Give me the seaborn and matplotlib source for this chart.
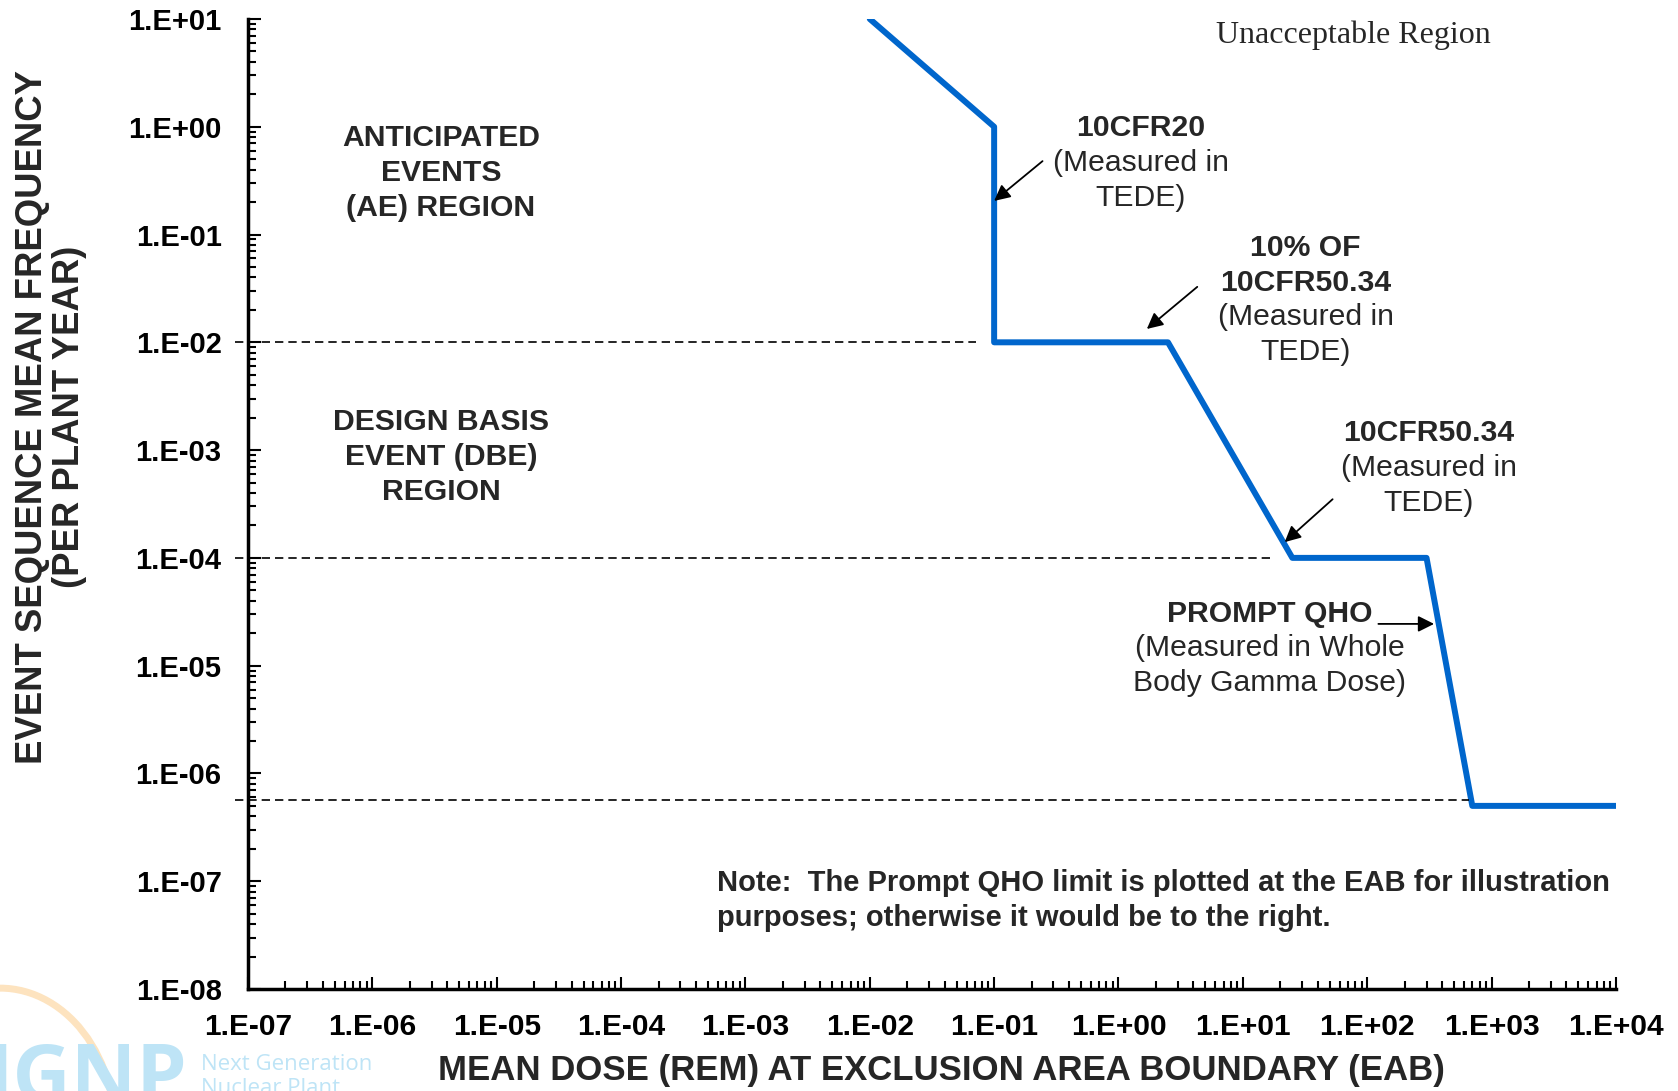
import numpy as np
import matplotlib
matplotlib.use("Agg")
import matplotlib.pyplot as plt
import seaborn as sns
from matplotlib.ticker import LogLocator, NullFormatter
from matplotlib.patches import Arc
from matplotlib import font_manager

# Limit curve: mean dose at EAB (rem) vs. event sequence frequency (per plant year)
dose = [1e-2, 0.1, 0.1, 2.5, 25, 300, 700, 1e4]
freq = [10, 1, 1e-2, 1e-2, 1e-4, 1e-4, 5e-7, 5e-7]

# Dashed region boundaries (frequency level, dose where the dashes stop)
bound_freq = [1e-2, 1e-4, 5.7e-7]
bound_end = [0.072, 17, 660]

x_ticks = [1e-7, 1e-6, 1e-5, 1e-4, 1e-3, 1e-2, 1e-1, 1e0, 1e1, 1e2, 1e3, 1e4]
x_tick_labels = ["1.E-07", "1.E-06", "1.E-05", "1.E-04", "1.E-03", "1.E-02",
                 "1.E-01", "1.E+00", "1.E+01", "1.E+02", "1.E+03", "1.E+04"]
y_ticks = [1e-8, 1e-7, 1e-6, 1e-5, 1e-4, 1e-3, 1e-2, 1e-1, 1e0, 1e1]
y_tick_labels = ["1.E-08", "1.E-07", "1.E-06", "1.E-05", "1.E-04", "1.E-03",
                 "1.E-02", "1.E-01", "1.E+00", "1.E+01"]

sns.set_theme(style="ticks")
plt.rcParams['font.family'] = ['Liberation Sans', 'DejaVu Sans']
installed = {f.name for f in font_manager.fontManager.ttflist}
narrow = 'Liberation Sans Narrow' if 'Liberation Sans Narrow' in installed else 'Liberation Sans'

fig = plt.figure(figsize=(16.78, 10.91), dpi=100)
ax = fig.add_axes([0.1478, 0.0935, 0.8152, 0.8891])
ax.set_xscale("log")
ax.set_yscale("log")

sns.lineplot(x=dose, y=freq, ax=ax, estimator=None, sort=False,
             color="#0066CC", linewidth=4.3)

for level, end in zip(bound_freq, bound_end):
    ax.plot([7.9e-8, end], [level, level], color="black", linewidth=1.2,
            linestyle=(0, (5, 3)), clip_on=False)

ax.set_xlim(1e-7, 1e4)
ax.set_ylim(1e-8, 1e1)

ax.set_xticks(x_ticks, x_tick_labels)
ax.set_yticks(y_ticks, y_tick_labels)
ax.xaxis.set_minor_locator(LogLocator(base=10, subs=np.arange(2, 10), numticks=100))
ax.yaxis.set_minor_locator(LogLocator(base=10, subs=np.arange(2, 10), numticks=100))
ax.xaxis.set_minor_formatter(NullFormatter())
ax.yaxis.set_minor_formatter(NullFormatter())

ax.tick_params(which="both", direction="in", width=1.5, top=False, right=False, colors="black")
ax.tick_params(which="major", length=9)
ax.tick_params(which="minor", length=6)
ax.tick_params(axis="y", which="major", pad=19)
ax.tick_params(axis="x", which="major", pad=17)
for lab in ax.get_yticklabels():
    lab.set_fontsize(21)
    lab.set_fontweight("bold")
for lab in ax.get_xticklabels():
    lab.set_fontsize(21.5 if narrow == 'Liberation Sans' else 26)
    lab.set_fontweight("bold")
    lab.set_family(narrow)

for side in ["top", "right"]:
    ax.spines[side].set_visible(False)
for side in ["left", "bottom"]:
    ax.spines[side].set_linewidth(2.5)
    ax.spines[side].set_color("black")

title_size = 25 if narrow == 'Liberation Sans' else 29
ax.set_xlabel("MEAN DOSE (REM) AT EXCLUSION AREA BOUNDARY (EAB)",
              fontsize=title_size, fontweight="bold", family=narrow)
ax.xaxis.set_label_coords(0.507, -0.0845)
ax.xaxis.label.set_verticalalignment("center")
ax.set_ylabel("EVENT SEQUENCE MEAN FREQUENCY\n(PER PLANT YEAR)",
              fontsize=title_size + 1.3, fontweight="bold", family=narrow, linespacing=1.1)
ax.yaxis.set_label_coords(-0.144, 0.59)
ax.yaxis.label.set_verticalalignment("center")


def block(x, y, lines, weights, size=21.7, spacing=25.2, ha="center", family=None):
    for i, (s, w) in enumerate(zip(lines, weights)):
        ax.annotate(s, xy=(x, y), xytext=(0, -i * spacing), textcoords="offset points",
                    ha=ha, va="center", fontsize=size, fontweight=w,
                    family=family, annotation_clip=False)


block(3.56e-6, 0.787, ["ANTICIPATED", "EVENTS", "(AE) REGION"], ["bold"] * 3)
block(3.56e-6, 1.83e-3, ["DESIGN BASIS", "EVENT (DBE)", "REGION"], ["bold"] * 3)
block(1.51, 0.975, ["10CFR20", "(Measured in", "TEDE)"], ["bold", "normal", "normal"])
block(32, 0.0752, ["10% OF", "10CFR50.34", "(Measured in", "TEDE)"],
      ["bold", "bold", "normal", "normal"], spacing=25.0)
block(312, 1.445e-3, ["10CFR50.34", "(Measured in", "TEDE)"], ["bold", "normal", "normal"])
block(16.4, 3.02e-5, ["PROMPT QHO", "(Measured in Whole", "Body Gamma Dose)"],
      ["bold", "normal", "normal"], spacing=24.8)
block(5.9e-4, 9.66e-8, ["Note:  The Prompt QHO limit is plotted at the EAB for illustration",
                        "purposes; otherwise it would be to the right."],
      ["bold", "bold"], size=21 if narrow == 'Liberation Sans' else 22,
      spacing=25.2, ha="left", family=narrow)

ax.text(77.8, 7.1, "Unacceptable Region", ha="center", va="center",
        fontsize=23, family="Liberation Serif")

arrow = dict(arrowstyle="-|>", color="black", lw=1.3, mutation_scale=24, shrinkA=0, shrinkB=0)
ax.annotate("", xy=(0.1, 0.205), xytext=(0.245, 0.48), arrowprops=arrow)
ax.annotate("", xy=(1.69, 0.0133), xytext=(4.3, 0.0327), arrowprops=arrow)
ax.annotate("", xy=(21.7, 1.4e-4), xytext=(52.7, 3.5e-4), arrowprops=arrow)
ax.annotate("", xy=(345, 2.44e-5), xytext=(123, 2.44e-5), arrowprops=arrow)

# faded NGNP watermark in the lower left corner
fig.text(0.112, -0.01, "NGNP", ha="right", va="baseline", fontsize=58,
         color="#BEE4F6", family="Open Sans", fontweight="bold")
fig.add_artist(Arc((0, -0.0357), 0.137, 0.26, theta1=0, theta2=95,
                   transform=fig.transFigure, color="#FDE3BF", lw=5))
fig.text(0.12, 0.034, "Next Generation\nNuclear Plant", ha="left", va="top",
         fontsize=16, color="#BEE4F6", family="Open Sans", linespacing=1.2)

fig.savefig("out.png", dpi=100)
